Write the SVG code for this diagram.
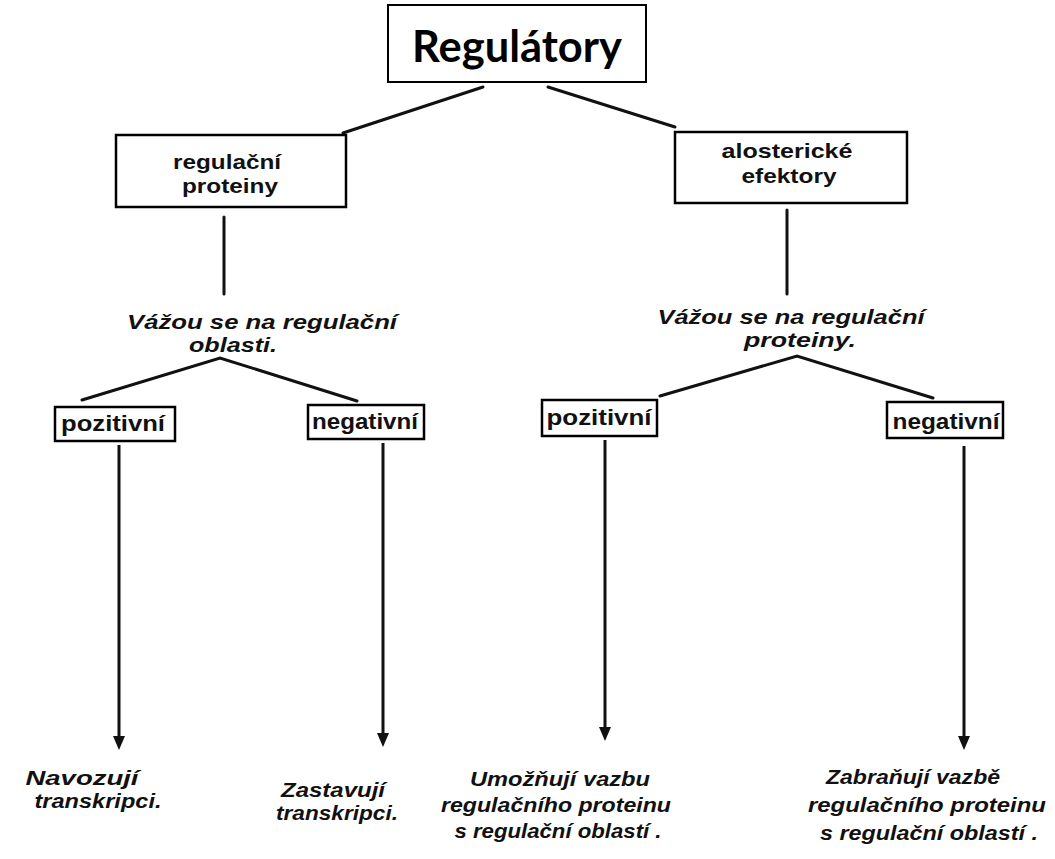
<svg xmlns="http://www.w3.org/2000/svg" width="1055" height="859" viewBox="0 0 1055 859">
<style>
.box{fill:#fff;stroke:#000;stroke-width:2.5}
.top{fill:#fff;stroke:#000;stroke-width:2}
.ln{stroke:#111;stroke-width:3;fill:none;stroke-linecap:round}
.ar{stroke:#111;stroke-width:3;fill:none;marker-end:url(#ah)}
.title{font-family:Lato,"Open Sans","Liberation Sans",sans-serif;font-weight:bold;font-size:44px;fill:#000}
.bt{font-family:"Liberation Sans",Arial,sans-serif;font-weight:bold;font-size:21px;fill:#111}
.it{font-family:"Liberation Sans",Arial,sans-serif;font-weight:bold;font-style:italic;font-size:20px;fill:#111}
.sm{font-family:"Liberation Sans",Arial,sans-serif;font-weight:bold;font-size:22px;fill:#111}
</style>
<defs>
<marker id="ah" markerWidth="14" markerHeight="12" refX="2" refY="6" orient="auto" markerUnits="userSpaceOnUse" viewBox="0 0 14 12">
<path d="M0,0 L14,6 L0,12 Z" fill="#111"/>
</marker>
</defs>
<g id="connectors">
<line class="ln" x1="483" y1="87" x2="343" y2="133"/>
<line class="ln" x1="548" y1="87" x2="675" y2="127"/>
<line class="ln" x1="224" y1="217" x2="224" y2="294"/>
<line class="ln" x1="787" y1="210" x2="787" y2="294"/>
<polyline class="ln" points="82,400 220,358 357,401"/>
<polyline class="ln" points="660,396 797,356 933,398"/>
<line class="ar" x1="119" y1="445" x2="119" y2="738"/>
<line class="ar" x1="383" y1="443" x2="383" y2="735"/>
<line class="ar" x1="605" y1="440" x2="605" y2="729"/>
<line class="ar" x1="964" y1="446" x2="964" y2="738"/>
</g>
<g id="n-regulatory">
<rect class="top" x="388" y="5" width="258" height="77"/>
<text class="title" x="517" y="62" text-anchor="middle" textLength="210" lengthAdjust="spacingAndGlyphs">Regulátory</text>
</g>
<g id="n-regulacni-proteiny">
<rect class="box" x="116" y="135" width="230" height="72"/>
<text class="bt" x="227" y="169" text-anchor="middle" textLength="108" lengthAdjust="spacingAndGlyphs">regulační</text>
<text class="bt" x="230" y="193" text-anchor="middle" textLength="96" lengthAdjust="spacingAndGlyphs">proteiny</text>
</g>
<g id="n-alostericke-efektory">
<rect class="box" x="675" y="132" width="232" height="71"/>
<text class="bt" x="787" y="158" text-anchor="middle" textLength="131" lengthAdjust="spacingAndGlyphs">alosterické</text>
<text class="bt" x="789" y="183" text-anchor="middle" textLength="95" lengthAdjust="spacingAndGlyphs">efektory</text>
</g>
<g id="l-vazou-oblasti">
<text class="it" x="262" y="329" text-anchor="middle" textLength="270" lengthAdjust="spacingAndGlyphs">Vážou se na regulační</text>
<text class="it" x="233" y="352" text-anchor="middle" textLength="88" lengthAdjust="spacingAndGlyphs">oblasti.</text>
</g>
<g id="l-vazou-proteiny">
<text class="it" x="791" y="324" text-anchor="middle" textLength="267" lengthAdjust="spacingAndGlyphs">Vážou se na regulační</text>
<text class="it" x="800" y="347" text-anchor="middle" textLength="112" lengthAdjust="spacingAndGlyphs">proteiny.</text>
</g>
<g id="n-pozitivni-1">
<rect class="box" x="55" y="407" width="120" height="34"/>
<text class="sm" x="113" y="431" text-anchor="middle" textLength="104" lengthAdjust="spacingAndGlyphs">pozitivní</text>
</g>
<g id="n-negativni-1">
<rect class="box" x="308" y="405" width="116" height="34"/>
<text class="sm" x="365" y="429" text-anchor="middle" textLength="106" lengthAdjust="spacingAndGlyphs">negativní</text>
</g>
<g id="n-pozitivni-2">
<rect class="box" x="542" y="400" width="115" height="36"/>
<text class="sm" x="599" y="425" text-anchor="middle" textLength="105" lengthAdjust="spacingAndGlyphs">pozitivní</text>
</g>
<g id="n-negativni-2">
<rect class="box" x="887" y="402" width="116" height="36"/>
<text class="sm" x="946" y="429" text-anchor="middle" textLength="107" lengthAdjust="spacingAndGlyphs">negativní</text>
</g>
<g id="t-navozuji">
<text class="it" x="82" y="785" text-anchor="middle" textLength="113" lengthAdjust="spacingAndGlyphs">Navozují</text>
<text class="it" x="98" y="808" text-anchor="middle" textLength="127" lengthAdjust="spacingAndGlyphs">transkripci.</text>
</g>
<g id="t-zastavuji">
<text class="it" x="333" y="797" text-anchor="middle" textLength="104" lengthAdjust="spacingAndGlyphs">Zastavují</text>
<text class="it" x="337" y="820" text-anchor="middle" textLength="122" lengthAdjust="spacingAndGlyphs">transkripci.</text>
</g>
<g id="t-umoznuji">
<text class="it" x="560" y="786" text-anchor="middle" textLength="180" lengthAdjust="spacingAndGlyphs">Umožňují vazbu</text>
<text class="it" x="556" y="812" text-anchor="middle" textLength="230" lengthAdjust="spacingAndGlyphs">regulačního proteinu</text>
<text class="it" x="558" y="838" text-anchor="middle" textLength="207" lengthAdjust="spacingAndGlyphs">s regulační oblastí .</text>
</g>
<g id="t-zabranuji">
<text class="it" x="913" y="784" text-anchor="middle" textLength="174" lengthAdjust="spacingAndGlyphs">Zabraňují vazbě</text>
<text class="it" x="927" y="812" text-anchor="middle" textLength="238" lengthAdjust="spacingAndGlyphs">regulačního proteinu</text>
<text class="it" x="929" y="840" text-anchor="middle" textLength="218" lengthAdjust="spacingAndGlyphs">s regulační oblastí .</text>
</g>
</svg>
